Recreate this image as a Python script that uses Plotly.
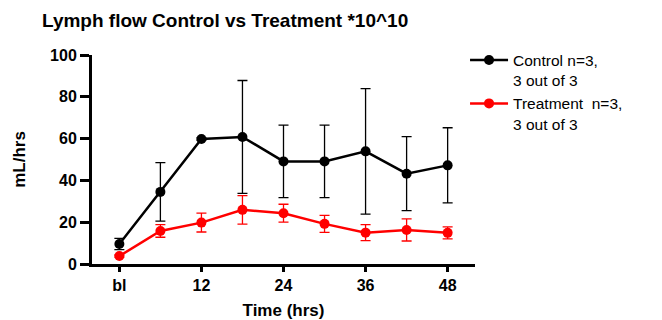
import plotly.graph_objects as go

hours = [0, 6, 12, 18, 24, 30, 36, 42, 48]
control = [9.6, 34.5, 59.8, 60.8, 49.1, 49.1, 53.9, 43.2, 47.2]
control_err = [2.7, 14.0, 0.5, 27.0, 17.3, 17.3, 30.0, 17.7, 18.0]
treatment = [3.8, 15.8, 19.8, 25.9, 24.3, 19.2, 15.0, 16.3, 14.9]
treatment_err = [0.5, 3.0, 4.5, 6.8, 4.3, 4.1, 3.8, 5.3, 2.9]
tick_vals = [0, 12, 24, 36, 48]
tick_text = ["bl", "12", "24", "36", "48"]

FONT = "Liberation Sans, Arial, sans-serif"

fig = go.Figure()
fig.add_trace(go.Scatter(
    x=hours, y=control, mode="lines+markers", name="Control n=3,<br>3 out of 3",
    line=dict(color="black", width=2.5),
    marker=dict(color="black", size=10),
    error_y=dict(type="data", array=control_err, visible=True, color="black", thickness=1.3, width=5),
))
fig.add_trace(go.Scatter(
    x=hours, y=treatment, mode="lines+markers", name="Treatment  n=3,<br>3 out of 3",
    line=dict(color="#ff0000", width=2.5),
    marker=dict(color="#ff0000", size=10),
    error_y=dict(type="data", array=treatment_err, visible=True, color="#ff0000", thickness=1.3, width=5),
))

# page body has an 8px margin, so the figure is sized to fit the 662x320 window
fig.update_layout(
    width=654, height=312,
    margin=dict(l=84, r=187, t=47, b=56, autoexpand=False),
    paper_bgcolor="white", plot_bgcolor="white",
    font=dict(family=FONT, color="black"),
    title=dict(text="<b>Lymph flow Control vs Treatment *10^10</b>",
               font=dict(size=19, family=FONT, color="black"),
               x=0.052, xanchor="left", y=0.962, yanchor="middle"),
    legend=dict(x=0.974, xanchor="left", y=1.055, yanchor="top",
                font=dict(size=15.5, family=FONT), valign="top",
                itemwidth=38, bgcolor="rgba(0,0,0,0)"),
    showlegend=True,
)
fig.update_xaxes(
    range=[-4, 52], tickvals=tick_vals, ticktext=tick_text,
    showline=True, linecolor="black", linewidth=3,
    ticks="outside", ticklen=5, tickwidth=3, tickcolor="black",
    showgrid=False, zeroline=False, automargin=False,
    tickfont=dict(size=16, family=FONT, weight="bold"),
    title=dict(text="<b>Time (hrs)</b>", font=dict(size=17, family=FONT), standoff=11),
)
fig.update_yaxes(
    range=[0, 100], tickvals=[0, 20, 40, 60, 80, 100],
    showline=True, linecolor="black", linewidth=3,
    ticks="outside", ticklen=9, tickwidth=3, tickcolor="black",
    showgrid=False, zeroline=False, automargin=False,
    tickfont=dict(size=16, family=FONT, weight="bold"),
    title=dict(text="<b>mL/hrs</b>", font=dict(size=17, family=FONT), standoff=21),
)

fig.write_html("out.html")
